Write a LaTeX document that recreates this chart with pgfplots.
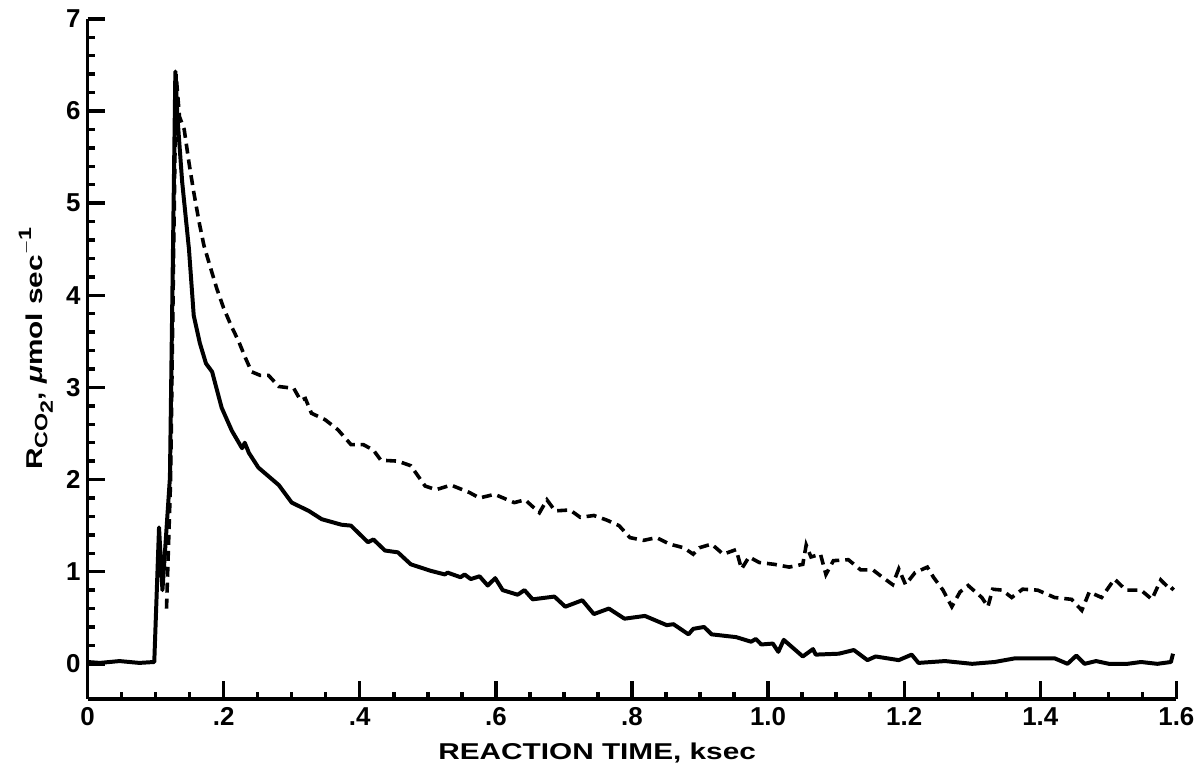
\documentclass[border=0pt]{standalone}
\usepackage{fontspec}
\setmainfont{Liberation Sans}
\newfontfamily\labelfont{Liberation Sans}[FakeStretch=1.3]
\usepackage{pgfplots}
\pgfplotsset{compat=1.18}
\begin{document}
\begin{tikzpicture}
\begin{axis}[
  scale only axis, width=547pt, height=341.5pt,
  xmin=0, xmax=1.6, ymin=-0.378, ymax=7,
  axis x line=bottom, axis y line=left,
  axis line style={-, line width=1.9pt},
  tick align=inside, tick pos=left,
  major tick length=9pt, minor tick length=3.5pt,
  every tick/.style={line width=1.7pt, black},
  xtick={0,0.2,0.4,0.6,0.8,1.0,1.2,1.4,1.6},
  xticklabels={0,.2,.4,.6,.8,1.0,1.2,1.4,1.6},
  minor xtick={0.05,0.1,0.15,0.25,0.3,0.35,0.45,0.5,0.55,0.65,0.7,0.75,0.85,0.9,0.95,1.05,1.1,1.15,1.25,1.3,1.35,1.45,1.5,1.55},
  ytick={0,1,2,3,4,5,6,7},
  minor ytick={0.2,0.4,0.6,0.8,1.2,1.4,1.6,1.8,2.2,2.4,2.6,2.8,3.2,3.4,3.6,3.8,4.2,4.4,4.6,4.8,5.2,5.4,5.6,5.8,6.2,6.4,6.6,6.8},
  /pgf/number format/assume math mode=true,
  ticklabel style={font=\fontsize{13}{13}\selectfont\bfseries},
  xticklabel style={yshift=-1pt},
  xlabel={\labelfont\bfseries REACTION TIME, ksec},
  xlabel style={at={(axis description cs:0.468,0)}, anchor=center, yshift=-27.5pt},
  ylabel={\labelfont\bfseries R\raisebox{-0.45ex}{\fontsize{9}{9}\selectfont CO}\raisebox{-0.9ex}{\fontsize{9}{9}\selectfont 2}, {\itshape μ}mol sec\raisebox{0.9ex}{\fontsize{9}{9}\selectfont $-$1}},
  ylabel style={at={(axis description cs:-0.0475,0.515)}, anchor=center},
  label style={font=\fontsize{11.5}{11.5}\selectfont},
]
\addplot[black, line width=2pt, line join=round] coordinates {
(0,0.02) (0.018,0.01) (0.047,0.03) (0.076,0.01) (0.098,0.02) (0.105,1.48) (0.110,0.80) (0.121,2.02) (0.129,6.43)
(0.132,5.94) (0.139,5.23) (0.149,4.50) (0.156,3.78) (0.165,3.48) (0.174,3.26) (0.183,3.17) (0.197,2.78) (0.212,2.53)
(0.227,2.34) (0.231,2.40) (0.237,2.29) (0.251,2.13) (0.281,1.94) (0.300,1.75) (0.325,1.66) (0.344,1.57) (0.373,1.51)
(0.387,1.50) (0.412,1.32) (0.420,1.35) (0.437,1.23) (0.456,1.21) (0.475,1.08) (0.504,1.01) (0.525,0.97) (0.529,0.99)
(0.548,0.94) (0.554,0.97) (0.563,0.92) (0.576,0.95) (0.588,0.85) (0.599,0.93) (0.610,0.80) (0.632,0.75) (0.642,0.80)
(0.654,0.70) (0.686,0.73) (0.702,0.62) (0.727,0.69) (0.744,0.54) (0.766,0.60) (0.789,0.49) (0.819,0.52) (0.851,0.42)
(0.861,0.43) (0.883,0.32) (0.890,0.38) (0.906,0.40) (0.917,0.32) (0.953,0.29) (0.975,0.24) (0.982,0.27) (0.990,0.21)
(1.007,0.22) (1.015,0.13) (1.023,0.26) (1.051,0.08) (1.066,0.16) (1.070,0.10) (1.104,0.11) (1.126,0.15) (1.146,0.04)
(1.158,0.08) (1.192,0.04) (1.211,0.10) (1.221,0.01) (1.260,0.03) (1.300,0.00) (1.333,0.02) (1.363,0.06) (1.421,0.06)
(1.440,0.00) (1.453,0.09) (1.465,0.00) (1.482,0.03) (1.501,0.00) (1.528,0.00) (1.548,0.02) (1.572,0.00) (1.592,0.02)
(1.595,0.11)
};
\addplot[black, line width=1.8pt, dash pattern=on 5pt off 3pt] coordinates {
(0.116,0.60) (0.122,2.00) (0.130,6.40) (0.135,5.94) (0.142,5.80) (0.149,5.44) (0.156,5.12) (0.164,4.79) (0.171,4.54)
(0.181,4.29) (0.190,4.07) (0.200,3.86) (0.211,3.67) (0.222,3.50) (0.232,3.32) (0.241,3.17) (0.254,3.13) (0.266,3.13)
(0.281,3.01) (0.303,2.99) (0.313,2.86) (0.320,2.88) (0.329,2.72) (0.349,2.65) (0.368,2.54) (0.387,2.38) (0.405,2.38)
(0.420,2.32) (0.431,2.21) (0.456,2.20) (0.475,2.15) (0.496,1.93) (0.512,1.89) (0.534,1.94) (0.561,1.86) (0.576,1.80)
(0.598,1.84) (0.627,1.75) (0.643,1.78) (0.664,1.64) (0.675,1.78) (0.687,1.66) (0.709,1.67) (0.724,1.59) (0.744,1.61)
(0.763,1.56) (0.781,1.50) (0.797,1.37) (0.817,1.34) (0.836,1.37) (0.855,1.30) (0.876,1.26) (0.890,1.19) (0.899,1.26)
(0.917,1.30) (0.934,1.19) (0.953,1.24) (0.961,1.03) (0.972,1.16) (0.987,1.10) (1.009,1.08) (1.031,1.05) (1.051,1.08)
(1.056,1.29) (1.063,1.16) (1.077,1.19) (1.085,0.97) (1.096,1.12) (1.118,1.13) (1.136,1.02) (1.154,1.02) (1.168,0.94)
(1.183,0.86) (1.192,1.03) (1.202,0.86) (1.216,0.99) (1.234,1.05) (1.243,0.94) (1.257,0.80) (1.270,0.62) (1.282,0.78)
(1.294,0.85) (1.314,0.72) (1.323,0.62) (1.330,0.81) (1.344,0.80) (1.358,0.72) (1.374,0.81) (1.396,0.80) (1.421,0.72)
(1.446,0.70) (1.461,0.58) (1.472,0.78) (1.490,0.72) (1.509,0.92) (1.526,0.80) (1.548,0.80) (1.564,0.70) (1.577,0.91)
(1.592,0.80) (1.596,0.83)
};
\end{axis}
\path[use as bounding box] (-44pt,-33.5pt) rectangle (556.5pt,351pt);
\end{tikzpicture}
\end{document}
